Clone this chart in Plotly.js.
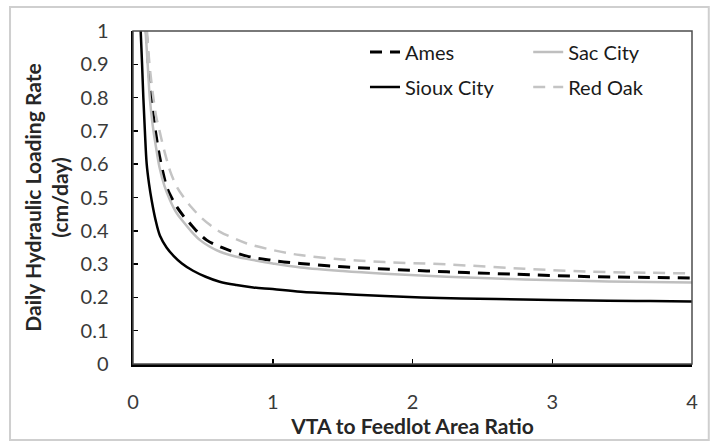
<!DOCTYPE html>
<html>
<head>
<meta charset="utf-8">
<script src="https://cdn.plot.ly/plotly-3.0.1.min.js"></script>
<style>html,body{margin:0;padding:0;background:#fff;}#chart{width:712px;height:443px;}</style>
</head>
<body>
<div id="chart"></div>
<script>
// Series names
const seriesNames = ["Ames", "Sac City", "Sioux City", "Red Oak"];

// Ames (black dashed)
const amesX = [0.095, 0.11, 0.127, 0.15, 0.175, 0.195, 0.22, 0.241, 0.275, 0.313, 0.36, 0.408, 0.465, 0.527, 0.6, 0.671, 0.814, 0.981, 1.195, 1.5, 1.8, 2.245, 2.7, 3.295, 3.7, 4.0];
const amesY = [1.0, 0.9, 0.815, 0.73, 0.66, 0.613, 0.565, 0.532, 0.50, 0.472, 0.445, 0.422, 0.395, 0.372, 0.356, 0.344, 0.324, 0.312, 0.302, 0.292, 0.285, 0.277, 0.270, 0.262, 0.260, 0.258];

// Sac City (gray solid)
const sacX = [0.09, 0.105, 0.12, 0.14, 0.165, 0.19, 0.225, 0.265, 0.31, 0.36, 0.42, 0.48, 0.55, 0.623, 0.74, 0.861, 1.0, 1.2, 1.5, 1.8, 2.245, 2.8, 3.4, 4.0];
const sacY = [1.0, 0.9, 0.8, 0.72, 0.65, 0.59, 0.535, 0.492, 0.455, 0.427, 0.397, 0.372, 0.352, 0.337, 0.322, 0.312, 0.302, 0.290, 0.279, 0.271, 0.262, 0.254, 0.248, 0.245];

// Sioux City (black solid)
const siouxX = [0.055, 0.065, 0.074, 0.085, 0.098, 0.115, 0.134, 0.16, 0.193, 0.24, 0.29, 0.35, 0.43, 0.52, 0.62, 0.74, 0.86, 1.0, 1.2, 1.5, 1.8, 2.2, 2.6, 3.0, 3.4, 3.7, 4.0];
const siouxY = [1.0, 0.9, 0.8, 0.7, 0.6, 0.54, 0.49, 0.435, 0.385, 0.35, 0.325, 0.302, 0.28, 0.262, 0.247, 0.237, 0.230, 0.225, 0.217, 0.210, 0.204, 0.198, 0.195, 0.192, 0.190, 0.189, 0.188];

// Red Oak (gray dashed)
const redOakX = [0.1, 0.118, 0.141, 0.165, 0.19, 0.215, 0.241, 0.265, 0.31, 0.36, 0.42, 0.48, 0.55, 0.623, 0.72, 0.814, 0.981, 1.195, 1.5, 1.8, 2.245, 2.8, 3.295, 3.7, 4.0];
const redOakY = [1.0, 0.9, 0.815, 0.745, 0.70, 0.655, 0.614, 0.58, 0.535, 0.502, 0.47, 0.443, 0.418, 0.397, 0.378, 0.362, 0.344, 0.327, 0.314, 0.306, 0.299, 0.286, 0.277, 0.274, 0.272];

// Axis ticks
const xTicks = [0, 1, 2, 3, 4];
const yTicks = [0, 0.1, 0.2, 0.3, 0.4, 0.5, 0.6, 0.7, 0.8, 0.9, 1];
const yTickText = ["0", "0.1", "0.2", "0.3", "0.4", "0.5", "0.6", "0.7", "0.8", "0.9", "1"];

const FONT = "Lato, 'Open Sans', sans-serif";

const traces = [
  {x: amesX, y: amesY, name: seriesNames[0], mode: "lines", line: {color: "#000000", width: 3, dash: "12px,8px", shape: "spline"}, legend: "legend"},
  {x: sacX, y: sacY, name: seriesNames[1], mode: "lines", line: {color: "#bfbfbf", width: 2.5, shape: "spline"}, legend: "legend2"},
  {x: siouxX, y: siouxY, name: seriesNames[2], mode: "lines", line: {color: "#000000", width: 2.5, shape: "spline"}, legend: "legend3"},
  {x: redOakX, y: redOakY, name: seriesNames[3], mode: "lines", line: {color: "#c4c4c4", width: 2.5, dash: "12px,8px", shape: "spline"}, legend: "legend4"}
];

function leg(x, y) {
  return {
    orientation: "v", xanchor: "left", yanchor: "middle", x: x, y: y,
    font: {family: FONT, size: 20, color: "#1a1a1a"},
    bgcolor: "rgba(0,0,0,0)", borderwidth: 0, itemwidth: 30
  };
}

const layout = {
  width: 712, height: 443,
  margin: {l: 133, r: 20, t: 31, b: 79},
  paper_bgcolor: "#ffffff", plot_bgcolor: "#ffffff",
  font: {family: FONT, size: 20, color: "#3a3a3a"},
  showlegend: true,
  legend: leg(0.415, 0.937),
  legend2: leg(0.707, 0.937),
  legend3: leg(0.415, 0.832),
  legend4: leg(0.707, 0.832),
  xaxis: {
    range: [0, 4], tickvals: xTicks, ticktext: xTicks.map(String),
    ticks: "inside", ticklen: 5, tickwidth: 1.5, tickcolor: "#000",
    showline: true, linecolor: "#000", linewidth: 2.5, showgrid: false, zeroline: false,
    ticklabelstandoff: 18,
    tickfont: {family: FONT, size: 20, color: "#3a3a3a"},
    title: {text: "<b>VTA to Feedlot Area Ratio</b>", font: {family: FONT, size: 21, color: "#262626"}, standoff: 8}
  },
  yaxis: {
    range: [0, 1], tickvals: yTicks, ticktext: yTickText,
    ticks: "inside", ticklen: 5, tickwidth: 1.5, tickcolor: "#000",
    showline: true, linecolor: "#000", linewidth: 2.5, showgrid: false, zeroline: false,
    ticklabelstandoff: 18,
    tickfont: {family: FONT, size: 20, color: "#3a3a3a"},
    title: {text: "<b>Daily Hydraulic Loading Rate<br>(cm/day)</b>", font: {family: FONT, size: 21, color: "#262626"}, standoff: 6}
  },
  shapes: [
    {type: "rect", xref: "paper", yref: "paper", x0: 0, x1: 1, y0: 0, y1: 1, line: {color: "#4d4d4d", width: 1.5}, layer: "above"},
    {type: "rect", xref: "paper", yref: "paper", x0: -0.22, x1: 1.03, y0: -0.228, y1: 1.072, line: {color: "#cfcfcf", width: 2}, layer: "below"}
  ]
};

Plotly.newPlot("chart", traces, layout, {displayModeBar: false, staticPlot: true});
</script>
</body>
</html>
